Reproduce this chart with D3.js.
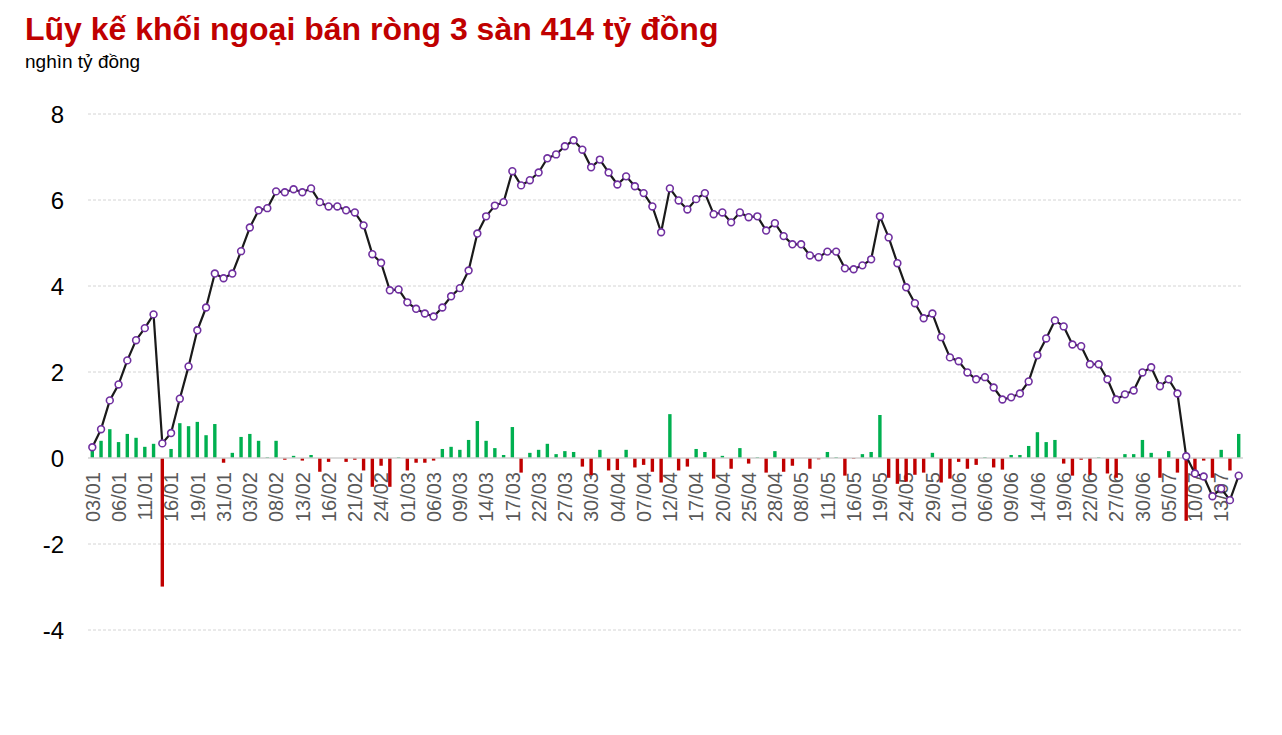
<!DOCTYPE html>
<html>
<head>
<meta charset="utf-8">
<script src="https://cdn.jsdelivr.net/npm/d3@7"></script>
<style>
  html, body { margin: 0; padding: 0; background: #fff; }
  svg { display: block; font-family: "Liberation Sans", Arial, sans-serif; }
</style>
</head>
<body>
<svg id="chart" width="1282" height="735"></svg>
<script>
const titleText = "Lũy kế khối ngoại bán ròng 3 sàn 414 tỷ đồng";
const unitText = "nghìn tỷ đồng";

const tickLabels = ["03/01","06/01","11/01","16/01","19/01","31/01","03/02","08/02","13/02","16/02","21/02","24/02",
  "01/03","06/03","09/03","14/03","17/03","22/03","27/03","30/03",
  "04/04","07/04","12/04","17/04","20/04","25/04","28/04",
  "08/05","11/05","16/05","19/05","24/05","29/05",
  "01/06","06/06","09/06","14/06","19/06","22/06","27/06","30/06",
  "05/07","10/07","13/07"];

// cumulative net (thousand billion VND)
const cumulative = [0.25,0.67,1.34,1.71,2.27,2.74,3.02,3.34,0.34,0.58,
  1.38,2.13,2.97,3.50,4.29,4.18,4.29,4.81,5.36,5.76,
  5.81,6.20,6.18,6.25,6.18,6.27,5.95,5.85,5.85,5.76,
  5.71,5.41,4.74,4.54,3.90,3.92,3.62,3.47,3.36,3.29,
  3.50,3.76,3.95,4.36,5.22,5.62,5.87,5.95,6.67,6.34,
  6.46,6.64,6.97,7.06,7.25,7.39,7.17,6.76,6.94,6.64,
  6.36,6.55,6.32,6.16,5.85,5.25,6.27,5.99,5.78,6.02,
  6.16,5.67,5.71,5.48,5.71,5.60,5.62,5.29,5.46,5.16,
  4.97,4.97,4.71,4.67,4.80,4.80,4.41,4.39,4.48,4.62,
  5.62,5.13,4.53,3.97,3.60,3.25,3.36,2.81,2.34,2.25,
  1.99,1.83,1.88,1.64,1.36,1.41,1.50,1.78,2.39,2.78,
  3.20,3.06,2.64,2.60,2.18,2.18,1.83,1.36,1.48,1.57,
  1.99,2.11,1.67,1.83,1.50,0.04,-0.36,-0.43,-0.89,-0.71,
  -0.98,-0.41];

// daily net (thousand billion VND)
const daily = [0.22,0.40,0.67,0.37,0.56,0.47,0.26,0.33,-2.99,0.21,
  0.81,0.74,0.84,0.53,0.79,-0.11,0.12,0.49,0.56,0.40,
  0.02,0.40,-0.04,0.05,-0.06,0.07,-0.32,-0.09,0.00,-0.09,
  -0.04,-0.29,-0.67,-0.18,-0.67,0.02,-0.29,-0.11,-0.11,-0.06,
  0.21,0.26,0.19,0.42,0.86,0.40,0.23,0.07,0.72,-0.34,
  0.12,0.19,0.33,0.09,0.16,0.14,-0.20,-0.40,0.19,-0.29,
  -0.28,0.19,-0.22,-0.16,-0.32,-0.57,1.02,-0.29,-0.20,0.21,
  0.14,-0.48,0.05,-0.25,0.23,-0.13,0.02,-0.34,0.16,-0.32,
  -0.18,0.00,-0.25,-0.03,0.14,0.02,-0.41,-0.02,0.09,0.14,
  1.00,-0.46,-0.60,-0.55,-0.39,-0.34,0.12,-0.57,-0.48,-0.09,
  -0.25,-0.16,0.02,-0.22,-0.27,0.07,0.07,0.28,0.60,0.37,
  0.42,-0.13,-0.41,-0.04,-0.39,0.02,-0.36,-0.46,0.09,0.09,
  0.42,0.12,-0.46,0.16,-0.34,-1.46,-0.29,-0.06,-0.46,0.19,
  -0.29,0.56];

const yTicks = [8,6,4,2,0,-2,-4];
const labelStep = 3;

const svg = d3.select("#chart");
const n = cumulative.length;
const idx = d3.range(n);

const x = d3.scaleLinear().domain([0, n - 1]).range([92.3, 1238.7]);
const y = d3.scaleLinear().domain([-4, 8]).range([630, 114]);

// title
svg.append("text").attr("x", 25).attr("y", 40)
  .attr("font-size", 32).attr("font-weight", "bold").attr("fill", "#c00000")
  .text(titleText);
svg.append("text").attr("x", 25).attr("y", 68)
  .attr("font-size", 19).attr("fill", "#000")
  .text(unitText);

// grid
const gridX0 = 88, gridX1 = 1243;
svg.append("g").selectAll("line").data(yTicks.filter(d => d !== 0)).join("line")
  .attr("x1", gridX0).attr("x2", gridX1)
  .attr("y1", d => y(d)).attr("y2", d => y(d))
  .attr("stroke", "#d4d4d4").attr("stroke-width", 1).attr("stroke-dasharray", "3,2");

// y axis labels
const yAxis = d3.axisLeft(y).tickValues(yTicks).tickSize(0).tickPadding(0).tickFormat(d => String(d));
const gy = svg.append("g").attr("transform", "translate(64,0)").call(yAxis);
gy.select(".domain").remove();
gy.selectAll("text").attr("font-size", 24).attr("fill", "#000")
  .attr("font-family", "Liberation Sans, Arial, sans-serif").attr("dy", "0.35em");

// x labels
const labelIdx = tickLabels.map((t, k) => k * labelStep);
svg.append("g").selectAll("text").data(tickLabels).join("text")
  .attr("transform", (d, k) => `translate(${x(labelIdx[k])},472) rotate(-90)`)
  .attr("text-anchor", "end").attr("dy", "0.36em")
  .attr("font-size", 20).attr("fill", "#595959")
  .text(d => d);

// bars
const bw = 3.4;
svg.append("g").selectAll("rect").data(idx).join("rect")
  .attr("x", i => x(i) - bw / 2)
  .attr("width", bw)
  .attr("y", i => daily[i] >= 0 ? y(daily[i]) : y(0))
  .attr("height", i => Math.abs(y(daily[i]) - y(0)))
  .attr("fill", i => daily[i] >= 0 ? "#00b050" : "#c00000");

// zero line
svg.append("line").attr("x1", gridX0).attr("x2", gridX1)
  .attr("y1", y(0)).attr("y2", y(0))
  .attr("stroke", "#d0d0d0").attr("stroke-width", 1.5);

// cumulative line
const line = d3.line().x(i => x(i)).y(i => y(cumulative[i]));
svg.append("path").datum(idx).attr("d", line)
  .attr("fill", "none").attr("stroke", "#1a1a1a").attr("stroke-width", 2.2)
  .attr("stroke-linejoin", "round");

svg.append("g").selectAll("circle").data(idx).join("circle")
  .attr("cx", i => x(i)).attr("cy", i => y(cumulative[i]))
  .attr("r", 3.4).attr("fill", "#fff")
  .attr("stroke", "#7030a0").attr("stroke-width", 1.6);
</script>
</body>
</html>
